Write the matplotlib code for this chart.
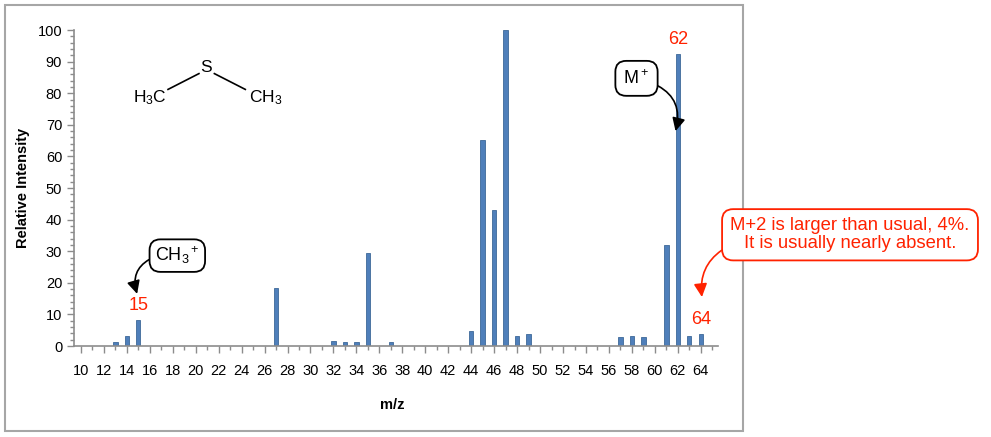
import matplotlib
matplotlib.use("Agg")
import matplotlib.pyplot as plt
from matplotlib.patches import Rectangle
from matplotlib.lines import Line2D

# datos del espectro (m/z, intensidad relativa)
mz = [13, 14, 15, 27, 32, 33, 34, 35, 37, 44, 45, 46, 47, 48, 49,
      57, 58, 59, 61, 62, 63, 64]
intensity = [1.2, 3.3, 8.3, 18.4, 1.6, 1.2, 1.2, 29.3, 1.2, 4.8, 65.3, 43.1,
             100, 3.3, 3.8, 2.7, 3.3, 2.7, 32.0, 92.4, 3.3, 3.8]

peak_labels = [15, 62, 64]
x_ticks = list(range(10, 65, 2))
y_ticks = list(range(0, 101, 10))

plt.rcParams["font.family"] = ["Liberation Sans", "DejaVu Sans"]
plt.rcParams["mathtext.fontset"] = "custom"
plt.rcParams["mathtext.rm"] = "Liberation Sans"
plt.rcParams["mathtext.it"] = "Liberation Sans:italic"
plt.rcParams["mathtext.default"] = "rm"

W, H = 991, 437
fig = plt.figure(figsize=(W / 100, H / 100), dpi=100)
ax = fig.add_axes([74 / W, 1 - 346 / H, 644 / W, 316 / H])

# marco gris del grafico (por debajo de las anotaciones)
fig.patches.append(Rectangle((5 / W, 1 - 431 / H), 738 / W, 426 / H,
                             transform=fig.transFigure, fill=False,
                             edgecolor="#a6a6a6", lw=1.5, zorder=-1))

ax.bar(mz, intensity, width=0.38, color="#4f7fba", edgecolor="#3d6899", lw=0.6)

ax.set_xlim(9.4, 65.5)
ax.set_ylim(0, 100)
ax.set_xticks(x_ticks)
ax.set_xticks(range(10, 66), minor=True)
ax.set_yticks(y_ticks)
ax.set_yticks(range(0, 101, 2), minor=True)
for s in ["top", "right"]:
    ax.spines[s].set_visible(False)
for s in ["left", "bottom"]:
    ax.spines[s].set_color("#8c8c8c")
    ax.spines[s].set_linewidth(1.2)
ax.tick_params(which="both", color="#8c8c8c", width=1, direction="out")
ax.tick_params(which="major", length=5)
ax.tick_params(which="minor", length=3)
ax.tick_params(axis="x", pad=8)
ax.tick_params(axis="both", labelsize=10.5)

ax.set_ylabel("Relative Intensity", fontweight="bold", fontsize=10.5)
ax.yaxis.set_label_coords(-0.068, 0.5)
ax.set_xlabel("m/z", fontweight="bold", fontsize=10.5)
ax.xaxis.set_label_coords(0.494, -0.165)

# etiquetas rojas de los picos
for p in peak_labels:
    h = intensity[mz.index(p)]
    ax.text(p, h + 4.6, str(p), color="#ff2200", fontsize=13, ha="center", va="center")

# estructura del dimetil sulfuro
ax.text(0.118, 0.785, r"H$_3$C", transform=ax.transAxes, fontsize=12.5, ha="center", va="center")
ax.text(0.205, 0.882, "S", transform=ax.transAxes, fontsize=12.5, ha="center", va="center")
ax.text(0.297, 0.785, r"CH$_3$", transform=ax.transAxes, fontsize=12.5, ha="center", va="center")
ax.add_line(Line2D([0.146, 0.194], [0.812, 0.862], transform=ax.transAxes, color="k", lw=1.2))
ax.add_line(Line2D([0.218, 0.266], [0.862, 0.812], transform=ax.transAxes, color="k", lw=1.2))

head = "-|>,head_length=0.6,head_width=0.3"
ax.annotate(r"CH$_3{}^+$", xy=(14.9, 16.5), xytext=(18.4, 28.6), fontsize=13,
            ha="center", va="center",
            bbox=dict(boxstyle="round,pad=0.3,rounding_size=0.6", fc="white", ec="black", lw=1.3),
            arrowprops=dict(arrowstyle=head, color="black", lw=1.2,
                            connectionstyle="arc3,rad=0.45", shrinkA=0, shrinkB=0,
                            relpos=(0, 0.45)))
ax.annotate(r"M$^+$", xy=(61.8, 68.0), xytext=(58.4, 84.7), fontsize=13,
            ha="center", va="center",
            bbox=dict(boxstyle="round,pad=0.45,rounding_size=0.6", fc="white", ec="black", lw=1.3),
            arrowprops=dict(arrowstyle=head, color="black", lw=1.2,
                            connectionstyle="arc3,rad=-0.45", shrinkA=0, shrinkB=0,
                            relpos=(1, 0.3)))
ax.annotate("M+2 is larger than usual, 4%.\nIt is usually nearly absent.",
            xy=(64.1, 15.5), xytext=(77.0, 35.2), fontsize=13.3, color="#ff2200",
            ha="center", va="center", linespacing=1.05, annotation_clip=False,
            bbox=dict(boxstyle="round,pad=0.45,rounding_size=0.6", fc="white",
                      ec="#ff2200", lw=1.3),
            arrowprops=dict(arrowstyle=head, color="#ff2200", lw=1.2,
                            connectionstyle="arc3,rad=0.35", shrinkA=0, shrinkB=0,
                            relpos=(0, 0.2)))

fig.savefig("out.png", dpi=100)
